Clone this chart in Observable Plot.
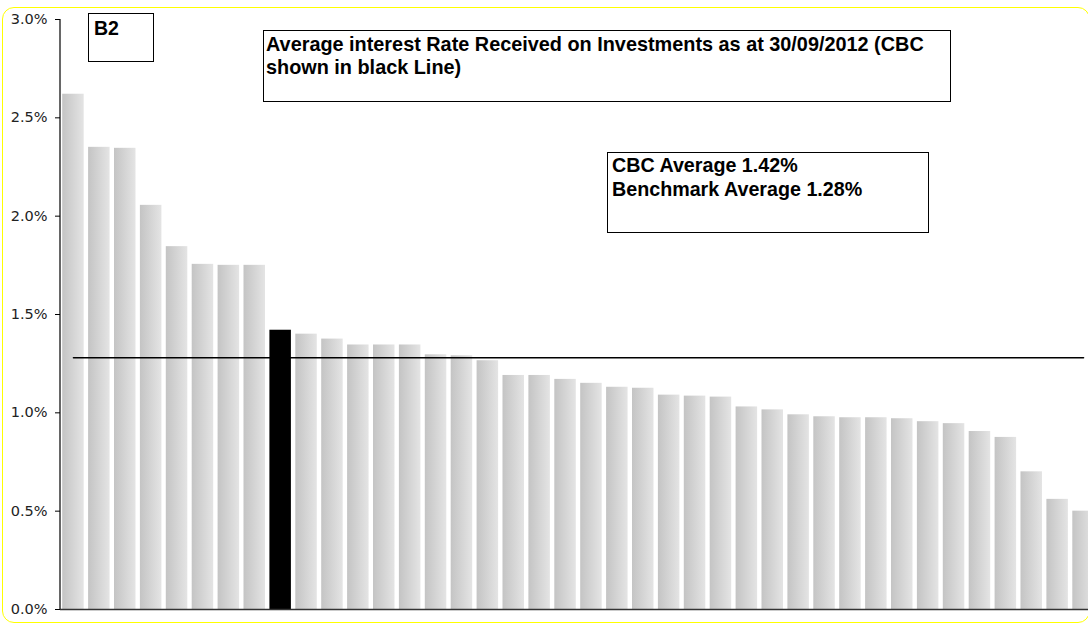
<!DOCTYPE html>
<html>
<head>
<meta charset="utf-8">
<script src="https://cdn.jsdelivr.net/npm/d3@7"></script>
<script src="https://cdn.jsdelivr.net/npm/@observablehq/plot@0.6"></script>
<style>
  html, body { margin: 0; padding: 0; background: #fff; overflow: hidden; }
  #wrap { position: relative; width: 1088px; height: 628px; overflow: hidden; }
  .box { position: absolute; border: 1.3px solid #000; background: #fff; font-family: "Liberation Sans", Arial, sans-serif; font-weight: bold; color: #000; box-sizing: border-box; white-space: nowrap; }
  #frame { position: absolute; left: 2px; top: 7px; width: 1088px; height: 616px; border: 1.5px solid #ffff00; border-radius: 12px; box-sizing: border-box; pointer-events: none; }
</style>
</head>
<body>
<div id="wrap">
  <div id="chart"></div>
  <div id="frame"></div>
  <div class="box" style="left:88px; top:13px; width:66px; height:49px; font-size:19.5px; padding:3px 0 0 5px;">B2</div>
  <div class="box" style="left:263px; top:30px; width:688px; height:72px; font-size:19.85px; line-height:23px; padding:2px 0 0 2px;">Average interest Rate Received on Investments as at 30/09/2012 (CBC<br>shown in black Line)</div>
  <div class="box" style="left:607px; top:152px; width:322px; height:81px; font-size:19.7px; line-height:24px; padding:0 0 0 4px;">CBC Average 1.42%<br>Benchmark Average 1.28%</div>
</div>
<script>
// ---- data ----
const authorities = d3.range(1, 41).map(i => "A" + i);
const rates = [2.62, 2.35, 2.345, 2.055, 1.845, 1.755, 1.75, 1.75, 1.42, 1.40,
               1.375, 1.345, 1.345, 1.345, 1.295, 1.29, 1.265, 1.19, 1.19, 1.17,
               1.15, 1.13, 1.125, 1.09, 1.085, 1.08, 1.03, 1.015, 0.99, 0.98,
               0.975, 0.975, 0.97, 0.955, 0.945, 0.905, 0.875, 0.70, 0.56, 0.50];
const cbcName = "A9";
const benchmark = 1.28;
const yTicks = [0, 0.5, 1.0, 1.5, 2.0, 2.5, 3.0];

const data = authorities.map((name, i) => ({name, rate: rates[i]}));

const yAxisLine = (index, scales, values, dimensions) => {
  const {marginLeft, marginTop, height, marginBottom} = dimensions;
  const g = d3.create("svg:line")
    .attr("x1", marginLeft).attr("x2", marginLeft)
    .attr("y1", marginTop).attr("y2", height - marginBottom)
    .attr("stroke", "#000").attr("stroke-width", 1.2);
  return g.node();
};

const chart = Plot.plot({
  width: 1096,
  height: 628,
  marginTop: 19,
  marginBottom: 19,
  marginLeft: 60,
  marginRight: 0,
  style: {background: "transparent", maxWidth: "none", overflow: "visible", color: "#222"},
  x: {type: "band", domain: authorities, paddingInner: 0.17, paddingOuter: 0.085, axis: null},
  y: {domain: [0, 3], ticks: yTicks, tickFormat: d => d.toFixed(1) + "%", label: null},
  marks: [
    Plot.axisY({ticks: yTicks, tickFormat: d => d.toFixed(1) + "%", tickSize: 5, tickPadding: 8,
                fontSize: 14.5, fontFamily: "DejaVu Sans, Verdana, sans-serif", label: null, stroke: "#000"}),
    Plot.barY(data.filter(d => d.name !== cbcName), {x: "name", y: "rate", fill: "url(#barGrad)"}),
    Plot.barY(data.filter(d => d.name === cbcName), {x: "name", y: "rate", fill: "#000"}),
    Plot.ruleY([0], {stroke: "#333", strokeWidth: 1.5}),
    Plot.lineY(authorities, {x: d => d, y: () => benchmark, stroke: "#000", strokeWidth: 1.5}),
    yAxisLine
  ]
});

chart.insertAdjacentHTML("afterbegin",
  '<defs><linearGradient id="barGrad" x1="0" x2="1" y1="0" y2="0">' +
  '<stop offset="0" stop-color="#c4c4c4"/><stop offset="1" stop-color="#e4e4e4"/>' +
  '</linearGradient></defs>');
document.getElementById("chart").appendChild(chart);
</script>
</body>
</html>
